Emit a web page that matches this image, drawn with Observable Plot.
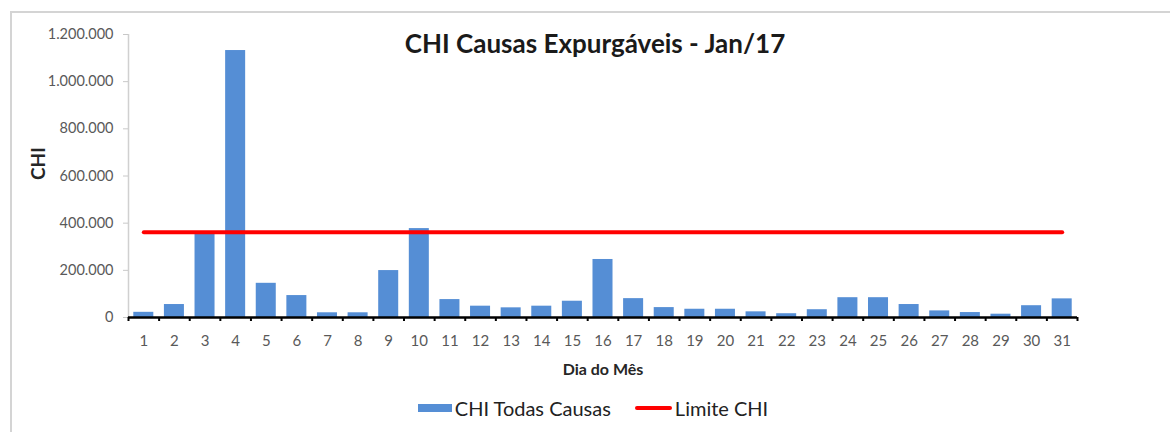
<!DOCTYPE html>
<html>
<head>
<meta charset="utf-8">
<script src="https://cdn.jsdelivr.net/npm/d3@7"></script>
<script src="https://cdn.jsdelivr.net/npm/@observablehq/plot@0.6"></script>
<style>
  html, body { margin: 0; padding: 0; background: #fff; overflow: hidden; }
  #wrap { position: relative; width: 1170px; height: 432px; overflow: hidden; font-family: Lato, "Open Sans", sans-serif; }
  #frame { position: absolute; left: 10px; top: 11px; width: 1300px; height: 600px; border-top: 2px solid #d4d4d4; border-left: 2px solid #d4d4d4; }
  #chart { position: absolute; left: 0; top: 0; }
  #legend { position: absolute; left: 8px; top: 396px; width: 1170px; display: flex; justify-content: center; align-items: center; font-size: 20px; color: #222; }
  .item { display: flex; align-items: center; margin: 0 12px; }
  .sw-bar { width: 34px; height: 8px; background: #558ed5; margin-right: 3px; }
  .sw-line { width: 37px; height: 4px; background: #ff0000; border-radius: 2px; margin-right: 3px; }
</style>
</head>
<body>
<div id="wrap">
  <div id="frame"></div>
  <div id="chart"></div>
  <div id="legend"></div>
</div>
<script>
const days = d3.range(1, 32);
const chiTodasCausas = [22000, 55000, 352000, 1132000, 145000, 93000, 20000, 20000, 199000, 377000,
  76000, 48000, 41000, 48000, 69000, 246000, 80000, 42000, 35000, 35000,
  24000, 16000, 33000, 84000, 84000, 55000, 28000, 21000, 14000, 50000, 79000];
const limiteCHI = 362000;
const yTicks = [0, 200000, 400000, 600000, 800000, 1000000, 1200000];
const title = "CHI Causas Expurgáveis - Jan/17";
const xLabel = "Dia do Mês";
const yLabel = "CHI";
const seriesNames = ["CHI Todas Causas", "Limite CHI"];

const bars = days.map((d, i) => ({day: d, value: chiTodasCausas[i]}));
const limitLine = days.map(d => ({day: d, value: limiteCHI}));
const boundaries = [days[0] - 0.5, ...days.map(d => d + 0.5)];

const ptBR = d3.formatLocale({decimal: ",", thousands: ".", grouping: [3], currency: ["R$", ""]});
const fmt = ptBR.format(",");

const chart = Plot.plot({
  width: 1170,
  height: 385,
  marginLeft: 128,
  marginRight: 93,
  marginTop: 34,
  marginBottom: 68,
  style: {fontFamily: "Lato, 'Open Sans', sans-serif", background: "transparent"},
  x: {domain: [0.5, 31.5], axis: null},
  y: {domain: [0, 1200000], axis: null},
  marks: [
    Plot.ruleX([0.5], {stroke: "#d0d0d0", strokeWidth: 1.5}),
    Plot.axisY(yTicks, {tickSize: 5, tickPadding: 10, stroke: "#c8c8c8", fill: "#595959", fontSize: 14.5, tickFormat: fmt, label: null}),
    Plot.rectY(bars, {x1: d => d.day - 0.5, x2: d => d.day + 0.5, y: "value", fill: "#558ed5", insetLeft: 5.3, insetRight: 5.3}),
    Plot.ruleY([0], {stroke: "#000", strokeWidth: 2.5}),
    Plot.axisX(boundaries, {tickSize: 4, strokeWidth: 2, stroke: "#000", tickFormat: () => "", label: null}),
    Plot.axisX(days, {tickSize: 0, tickPadding: 18, fill: "#595959", fontSize: 15, label: null}),
    Plot.lineY(limitLine, {x: "day", y: "value", stroke: "#ff0000", strokeWidth: 4, strokeLinecap: "round"}),
    Plot.text([title], {frameAnchor: "top", dx: -8, dy: 0, fontSize: 26, fontWeight: "bold", fill: "#1a1a1a"}),
    Plot.text([xLabel], {frameAnchor: "bottom", dy: 57, fontSize: 16, fontWeight: "bold", fill: "#262626"}),
    Plot.text([yLabel], {frameAnchor: "left", dx: -90, dy: 4, rotate: -90, fontSize: 19, fontWeight: "bold", fill: "#262626"})
  ]
});
document.getElementById("chart").appendChild(chart);

const legend = document.getElementById("legend");
legend.innerHTML = `
  <div class="item"><div class="sw-bar"></div><span>${seriesNames[0]}</span></div>
  <div class="item"><div class="sw-line"></div><span>${seriesNames[1]}</span></div>`;
</script>
</body>
</html>
